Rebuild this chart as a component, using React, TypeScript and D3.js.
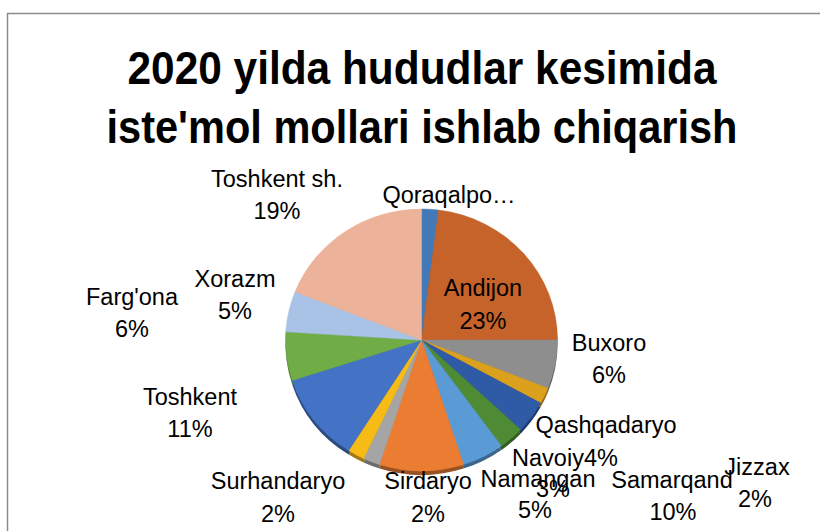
import { useRef, useEffect } from 'react';
import * as d3 from 'd3';

// Data (share of output, %)
const regions = [
    'Qoraqalpo…', 'Andijon', 'Buxoro', 'Jizzax', 'Qashqadaryo', 'Navoiy', 'Namangan',
    'Samarqand', 'Sirdaryo', 'Surhandaryo', 'Toshkent', "Farg'ona", 'Xorazm', 'Toshkent sh.',
];
const shares = [2, 23, 6, 2, 4, 3, 5, 10, 2, 2, 11, 6, 5, 19];
const sliceColors = [
    '#4379b6', '#c5632a', '#8e8e8e', '#dba11c', '#2f5aa6', '#4e8b34', '#5b9bd5',
    '#eb7d32', '#a5a5a5', '#f7bb16', '#4472c4', '#70ad47', '#a9c3e6', '#edb39a',
];
const titleLines = ['2020 yilda hududlar kesimida', "iste'mol mollari ishlab chiqarish"];

// label placement (best-fit style), centre x and baseline y of name and percent lines
const labelAt = [
    { name: [449, 203], pct: null },
    { name: [483, 296], pct: [483, 329] },
    { name: [609, 351], pct: [609, 383] },
    { name: [757, 475], pct: [755, 507] },
    { name: [606, 433], pct: [601, 466] },
    { name: [548, 466], pct: [553, 497] },
    { name: [538, 487], pct: [535, 518] },
    { name: [672, 488], pct: [673, 520] },
    { name: [428, 489], pct: [428, 522] },
    { name: [278, 489], pct: [278, 522] },
    { name: [190, 405], pct: [190, 437] },
    { name: [132, 305], pct: [132, 337] },
    { name: [235, 287], pct: [235, 319] },
    { name: [277, 187], pct: [277, 219] },
];

const W = 820;
const H = 531;

const PieChart = () => {
    const ref = useRef(null);

    useEffect(() => {
        document.body.style.margin = '0';
        const svg = d3.select(ref.current);
        svg.selectAll('*').remove();

        // chart area border
        svg.append('rect')
            .attr('x', 7.5).attr('y', 13.5)
            .attr('width', W + 20).attr('height', H + 20)
            .attr('fill', '#fff')
            .attr('stroke', '#8c8c8c')
            .attr('stroke-width', 1.5);

        const title = svg.append('g')
            .attr('font-family', "'Liberation Sans', Arial, sans-serif")
            .attr('font-weight', 'bold')
            .attr('font-size', 46)
            .attr('text-anchor', 'middle');
        title.selectAll('text')
            .data(titleLines)
            .enter().append('text')
            .attr('x', 422)
            .attr('y', (d, i) => 84 + i * 59)
            .attr('textLength', (d, i) => (i === 0 ? 589 : 631))
            .attr('lengthAdjust', 'spacingAndGlyphs')
            .text(d => d);

        const cx = 421.5;
        const cy = 340;
        const rx = 136;
        const ry = 131;
        const depth = 4;

        const pie = d3.pie().sort(null).value(d => d)
            .startAngle(0).endAngle(2 * Math.PI);
        const arcs = pie(shares);
        const arc = d3.arc().innerRadius(0).outerRadius(rx);

        // 3D side (slightly visible below the top face)
        svg.append('g')
            .attr('transform', `translate(${cx},${cy + depth}) scale(1,${ry / rx})`)
            .selectAll('path')
            .data(arcs)
            .enter().append('path')
            .attr('d', arc)
            .attr('fill', (d, i) => d3.color(sliceColors[i]).darker(1.2));

        svg.append('g')
            .attr('transform', `translate(${cx},${cy}) scale(1,${ry / rx})`)
            .selectAll('path')
            .data(arcs)
            .enter().append('path')
            .attr('d', arc)
            .attr('fill', (d, i) => sliceColors[i])
            .attr('stroke', (d, i) => sliceColors[i])
            .attr('stroke-width', 0.5);

        const total = d3.sum(shares);
        const labels = svg.append('g')
            .attr('font-family', "'Liberation Sans', Arial, sans-serif")
            .attr('font-size', 23.5)
            .attr('fill', '#000')
            .attr('text-anchor', 'middle');

        regions.forEach((name, i) => {
            const pos = labelAt[i];
            labels.append('text')
                .attr('x', pos.name[0]).attr('y', pos.name[1])
                .text(name);
            if (pos.pct) {
                labels.append('text')
                    .attr('x', pos.pct[0]).attr('y', pos.pct[1])
                    .text(`${Math.round((shares[i] / total) * 100)}%`);
            }
        });
    }, []);

    return <svg ref={ref} width={W} height={H} style={{ display: 'block' }}></svg>;
};

export default function App() {
    return <PieChart />;
}
